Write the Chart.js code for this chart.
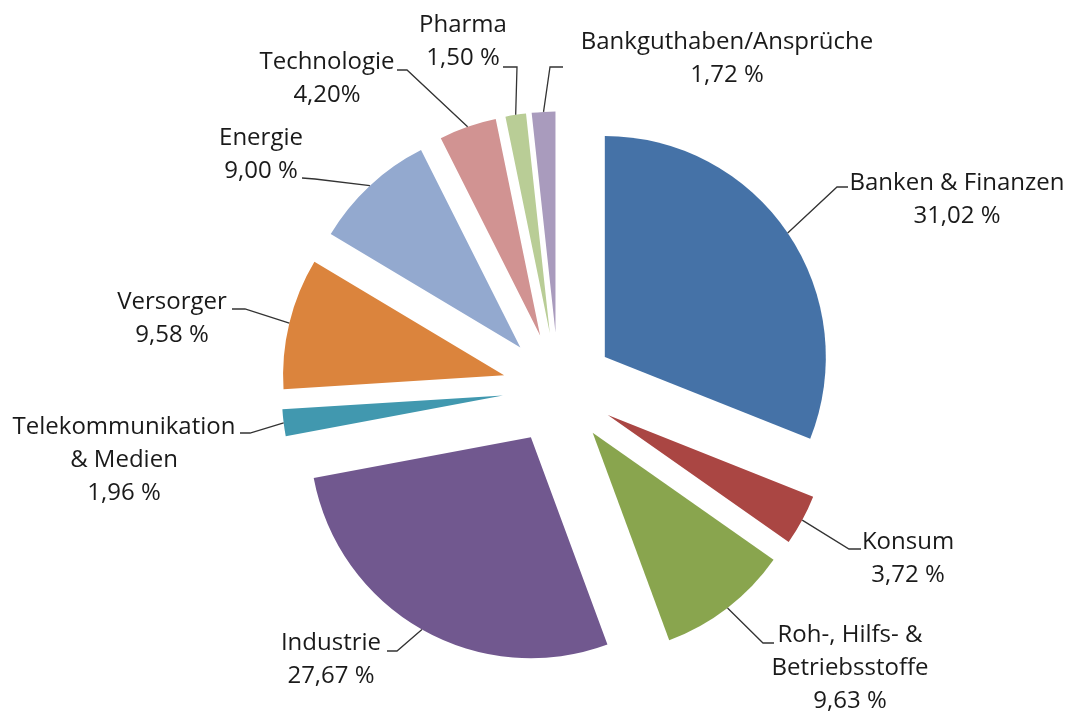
<!DOCTYPE html>
<html>
<head>
<meta charset="utf-8">
<script src="https://cdn.jsdelivr.net/npm/chart.js@4.4.1/dist/chart.umd.min.js"></script>
<style>
    html, body { margin: 0; padding: 0; background: #ffffff; }
    #wrap { width: 1069px; height: 713px; }
</style>
</head>
<body>
<div id="wrap"><canvas id="pieChart" width="1069" height="713"></canvas></div>
<script>
// Daten
const categories = [
    'Banken & Finanzen',
    'Konsum',
    ['Roh-, Hilfs- &', 'Betriebsstoffe'],
    'Industrie',
    ['Telekommunikation', '& Medien'],
    'Versorger',
    'Energie',
    'Technologie',
    'Pharma',
    'Bankguthaben/Ansprüche'
];
const shares = [31.02, 3.72, 9.63, 27.67, 1.96, 9.58, 9.00, 4.20, 1.50, 1.72];
const sliceColors = ['#4572a7', '#aa4643', '#89a54e', '#71588f', '#4198af',
                     '#db843d', '#93a9cf', '#d19392', '#b9cd96', '#a99bbd'];

// Label-Position (Textmitte, erste Zeile) + Knick der Führungslinie
const labelLayout = [
    { x: 957, y: 183, side: [848, 187], elbow: [837, 187] },
    { x: 908, y: 542, side: [861, 549], elbow: [849, 549] },
    { x: 850, y: 635, side: [774, 643], elbow: [763, 643] },
    { x: 331, y: 643, side: [387, 651], elbow: [397, 651] },
    { x: 124, y: 427, side: [240, 433], elbow: [250, 433] },
    { x: 172, y: 302, side: [232, 309], elbow: [245, 309] },
    { x: 261, y: 138, side: [302, 178], elbow: [315, 179] },
    { x: 327, y: 62,  side: [397, 70],  elbow: [407, 70] },
    { x: 463, y: 25,  side: [503, 67],  elbow: [517, 67] },
    { x: 727, y: 42,  side: [563, 67],  elbow: [550, 67] }
];

const explode = 56;
const lineHeight = 33;

function formatShare(i) {
    const txt = shares[i].toFixed(2).replace('.', ',');
    return categories[i] === 'Technologie' ? txt + '%' : txt + ' %';
}

// Segmente auseinanderziehen
const explodePlugin = {
    id: 'explode',
    afterDatasetsUpdate(chart) {
        const meta = chart.getDatasetMeta(0);
        meta.data.forEach(function(arc) {
            const mid = (arc.startAngle + arc.endAngle) / 2;
            arc.x += Math.cos(mid) * explode;
            arc.y += Math.sin(mid) * explode;
        });
    }
};

// Beschriftungen mit Führungslinien
const labelPlugin = {
    id: 'sliceLabels',
    afterDatasetsDraw(chart) {
        const ctx = chart.ctx;
        const meta = chart.getDatasetMeta(0);
        ctx.save();
        meta.data.forEach(function(arc, i) {
            const lay = labelLayout[i];
            const mid = (arc.startAngle + arc.endAngle) / 2;
            const px = arc.x + Math.cos(mid) * arc.outerRadius;
            const py = arc.y + Math.sin(mid) * arc.outerRadius;

            ctx.strokeStyle = '#333333';
            ctx.lineWidth = 1.3;
            ctx.beginPath();
            ctx.moveTo(px, py);
            ctx.lineTo(lay.elbow[0], lay.elbow[1]);
            ctx.lineTo(lay.side[0], lay.side[1]);
            ctx.stroke();

            const name = categories[i];
            const lines = (Array.isArray(name) ? name.slice() : [name]);
            lines.push(formatShare(i));
            ctx.fillStyle = '#1a1a1a';
            ctx.font = '24px "Open Sans", Lato, sans-serif';
            ctx.textAlign = 'center';
            ctx.textBaseline = 'middle';
            lines.forEach(function(line, k) {
                ctx.fillText(line, lay.x, lay.y + k * lineHeight);
            });
        });
        ctx.restore();
    }
};

const canvas = document.getElementById('pieChart');
const ctx = canvas.getContext('2d');

new Chart(ctx, {
    type: 'pie',
    data: {
        labels: categories,
        datasets: [{
            data: shares,
            backgroundColor: sliceColors,
            borderWidth: 0,
            radius: 221
        }]
    },
    options: {
        responsive: false,
        animation: false,
        events: [],
        layout: {
            padding: { left: 48, top: 64, right: 0, bottom: 0 }
        },
        plugins: {
            legend: { display: false },
            tooltip: { enabled: false }
        }
    },
    plugins: [explodePlugin, labelPlugin]
});
</script>
</body>
</html>
